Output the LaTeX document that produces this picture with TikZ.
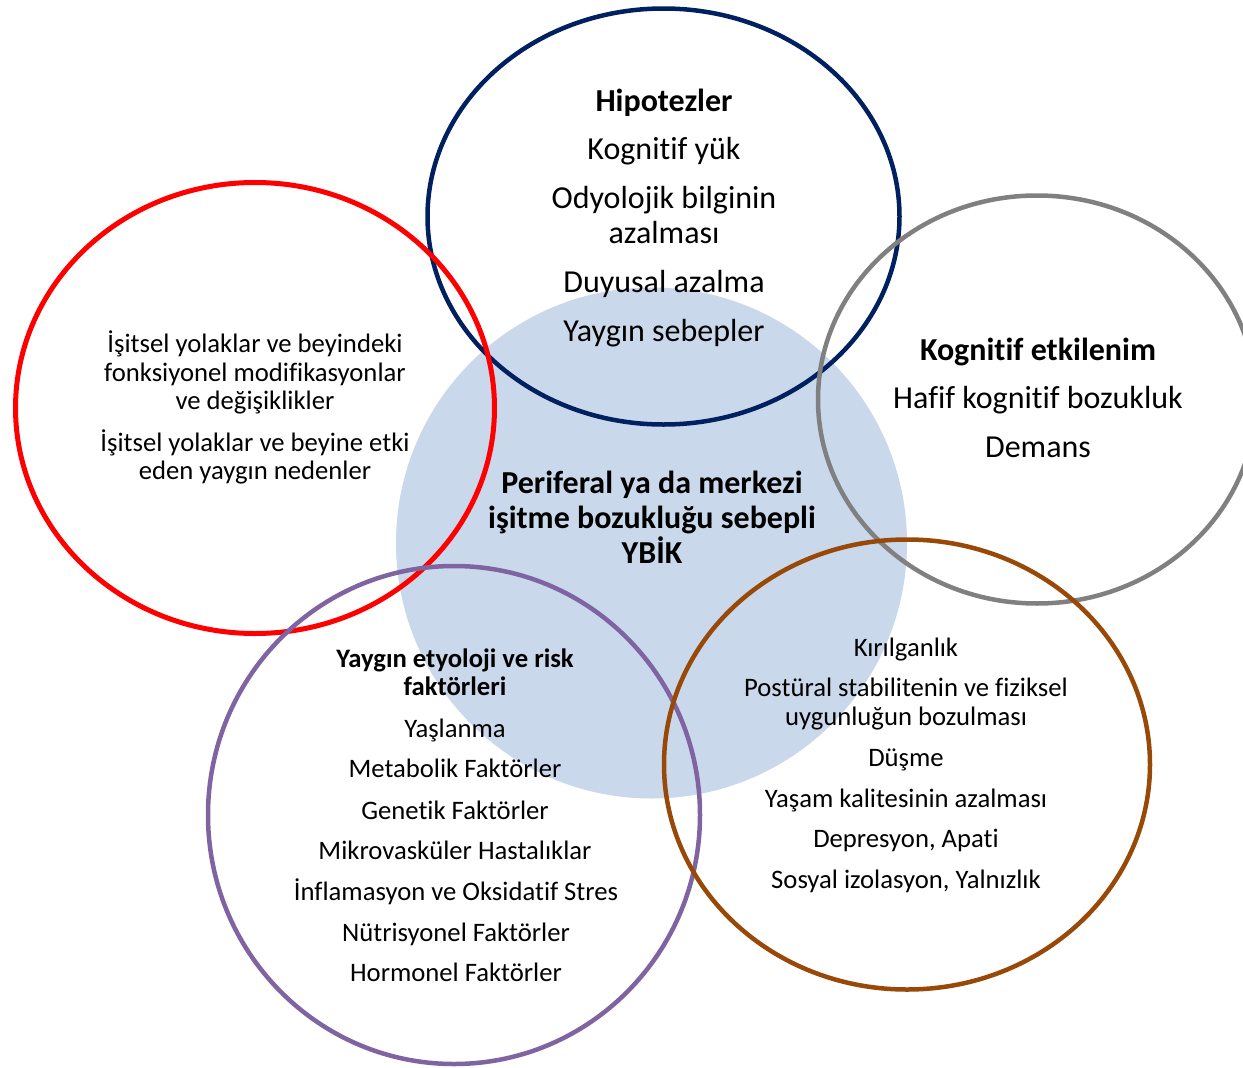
\documentclass[tikz,border=0pt]{standalone}
\usepackage{fontspec}
\setmainfont{Carlito}[Ligatures={NoCommon,NoContextual}]
\definecolor{fillblue}{RGB}{201,216,235}
\definecolor{navy}{RGB}{0,32,96}
\definecolor{redc}{RGB}{255,0,0}
\definecolor{grayc}{RGB}{128,128,128}
\definecolor{purplec}{RGB}{128,100,162}
\definecolor{brownc}{RGB}{152,72,7}
\tikzset{
  ring/.style={line width=4.5pt},
  big/.style={anchor=base, inner sep=0pt, font=\fontsize{32}{38}\selectfont},
  bigb/.style={anchor=base, inner sep=0pt, font=\fontsize{32}{38}\selectfont\bfseries},
  small/.style={anchor=base, inner sep=0pt, font=\fontsize{26.67}{32}\selectfont},
  smallb/.style={anchor=base, inner sep=0pt, font=\fontsize{26.67}{32}\selectfont\bfseries},
}
\begin{document}
\begin{tikzpicture}[x=1pt,y=-1pt]
\useasboundingbox (0,0) rectangle (1243,1068);
\clip (0,0) rectangle (1243,1068);
% filled central circle
\fill[fillblue] (651.5,543) circle[radius=255.5];
% rings
\draw[ring,navy] (663.5,216.5) ellipse[x radius=236, y radius=208];
\draw[ring,redc,line width=5pt] (255,408) ellipse[x radius=239.5, y radius=225.5];
\draw[ring,grayc] (1037,399.5) ellipse[x radius=219, y radius=204];
\draw[ring,purplec] (454,815) ellipse[x radius=246, y radius=249];
\draw[ring,brownc] (907,764.5) ellipse[x radius=243, y radius=225];
% Hipotezler
\node[bigb] (h1) at (664,111) {Hipotezler};
\node[big] (h2) at (664,159) {Kognitif yük};
\node[big] (h3) at (664,208) {Odyolojik bilginin};
\node[big] (h4) at (664,243) {azalması};
\node[big] (h5) at (664,292) {Duyusal azalma};
\node[big] (h6) at (664,341) {Yaygın sebepler};
% red
\node[small] (r1) at (255,352) {İşitsel yolaklar ve beyindeki};
\node[small] (r2) at (255,381) {fonksiyonel modifikasyonlar};
\node[small] (r3) at (255,409) {ve değişiklikler};
\node[small] (r4) at (255,451) {İşitsel yolaklar ve beyine etki};
\node[small] (r5) at (255,479) {eden yaygın nedenler};
% gray
\node[bigb] (g1) at (1038,360) {Kognitif etkilenim};
\node[big] (g2) at (1038,408) {Hafif kognitif bozukluk};
\node[big] (g3) at (1038,457) {Demans};
% center
\node[bigb] (c1) at (652,493) {Periferal ya da merkezi};
\node[bigb] (c2) at (652,528) {işitme bozukluğu sebepli};
\node[bigb] (c3) at (652,563) {YBİK};
% purple
\node[smallb] (p1) at (455,667) {Yaygın etyoloji ve risk};
\node[smallb] (p2) at (455,695) {faktörleri};
\node[small] (p3) at (455,737) {Yaşlanma};
\node[small] (p4) at (455,777) {Metabolik Faktörler};
\node[small] (p5) at (455,819) {Genetik Faktörler};
\node[small] (p6) at (455,859) {Mikrovasküler Hastalıklar};
\node[small] (p7) at (456,900) {İnflamasyon ve Oksidatif Stres};
\node[small] (p8) at (456,941) {Nütrisyonel Faktörler};
\node[small] (p9) at (456,981) {Hormonel Faktörler};
% brown
\node[small] (b1) at (906,656) {Kırılganlık};
\node[small] (b2) at (906,696) {Postüral stabilitenin ve fiziksel};
\node[small] (b3) at (906,725) {uygunluğun bozulması};
\node[small] (b4) at (906,766) {Düşme};
\node[small] (b5) at (906,807) {Yaşam kalitesinin azalması};
\node[small] (b6) at (906,847) {Depresyon, Apati};
\node[small] (b7) at (906,888) {Sosyal izolasyon, Yalnızlık};
\end{tikzpicture}
\end{document}
